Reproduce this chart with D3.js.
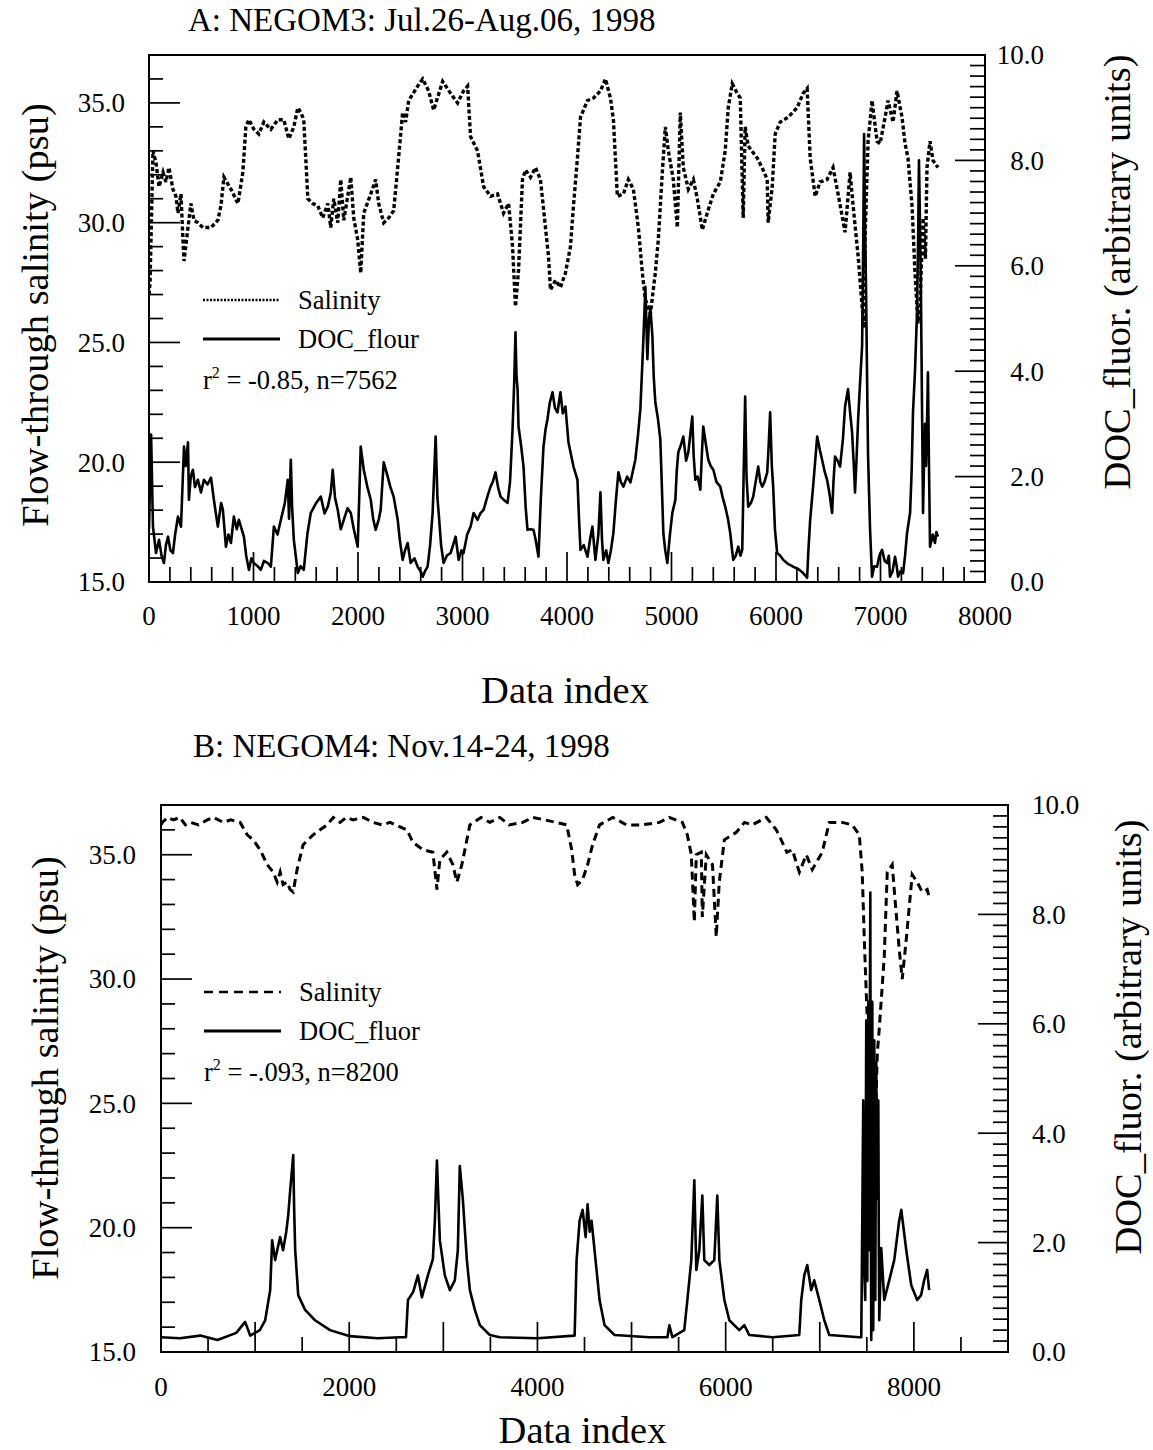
<!DOCTYPE html>
<html><head><meta charset="utf-8">
<script src="https://cdnjs.cloudflare.com/ajax/libs/d3/7.8.5/d3.min.js"></script>
<style>
body{margin:0;background:#fff}
text{font-family:"Liberation Serif","Times New Roman",serif;fill:#000}
</style>
</head><body>
<svg id="c" width="1153" height="1450"></svg>
<script>
// ---------- DATA (index, value) ----------
const salinityA = [[0,27.0],[10,27.5],[38,33.0],[67,32.5],[96,31.5],[134,32.1],[162,31.7],[191,32.3],[229,31.4],[258,31.1],[277,30.4],[306,31.2],[325,29.3],[335,28.4],[373,29.8],[401,30.8],[430,30.1],[468,30.0],[516,29.8],[593,29.8],[659,30.1],[688,30.7],[717,31.9],[784,31.4],[851,30.8],[898,32.1],[927,34.0],[956,34.3],[1003,33.9],[1051,33.7],[1099,34.2],[1166,33.9],[1233,34.3],[1290,34.3],[1338,33.5],[1386,34.0],[1424,34.8],[1453,34.6],[1481,34.3],[1520,31.0],[1567,30.8],[1615,30.7],[1663,30.2],[1711,30.8],[1739,29.8],[1768,31.0],[1806,30.0],[1835,31.8],[1864,30.1],[1931,31.9],[1959,30.2],[1997,29.3],[2026,27.9],[2055,30.4],[2122,31.2],[2169,31.8],[2198,30.8],[2246,30.0],[2294,30.2],[2341,30.5],[2380,32.3],[2427,34.6],[2456,34.2],[2485,35.1],[2571,35.7],[2619,36.0],[2676,35.5],[2724,34.7],[2810,35.9],[2886,35.4],[2953,35.0],[3010,35.5],[3049,35.7],[3077,33.6],[3144,33.0],[3202,31.5],[3268,31.1],[3335,31.2],[3393,30.4],[3441,30.8],[3479,29.0],[3507,26.5],[3536,28.0],[3574,31.8],[3603,32.2],[3651,31.9],[3698,32.3],[3746,31.8],[3794,29.8],[3823,28.6],[3842,27.2],[3890,27.6],[3937,27.3],[3985,27.9],[4033,29.0],[4062,30.7],[4100,32.7],[4129,34.4],[4196,35.1],[4253,35.2],[4320,35.5],[4368,36.0],[4416,35.2],[4444,34.3],[4482,31.1],[4540,31.2],[4587,31.8],[4635,31.4],[4683,29.8],[4721,27.9],[4750,26.8],[4798,26.2],[4845,27.9],[4874,29.3],[4912,32.1],[4941,34.0],[4970,33.0],[5017,31.8],[5056,29.8],[5084,34.6],[5113,32.3],[5161,31.4],[5209,31.8],[5247,31.0],[5295,29.7],[5342,30.4],[5400,31.2],[5467,31.7],[5514,33.0],[5543,34.8],[5581,35.8],[5629,35.4],[5658,35.2],[5686,30.2],[5705,34.0],[5734,33.2],[5820,32.7],[5877,32.2],[5916,31.8],[5925,30.0],[5964,31.5],[5992,33.7],[6040,34.2],[6116,34.4],[6202,34.8],[6260,35.4],[6298,35.6],[6327,32.7],[6375,31.1],[6422,31.7],[6489,31.8],[6546,32.3],[6594,31.2],[6661,29.6],[6709,32.1],[6738,30.7],[6786,28.6],[6824,26.5],[6843,25.6],[6852,29.3],[6881,33.4],[6919,35.1],[6967,33.4],[6996,33.3],[7044,34.4],[7072,35.1],[7120,34.2],[7158,35.5],[7206,34.4],[7235,33.3],[7263,32.7],[7302,30.7],[7330,27.9],[7359,25.8],[7378,26.5],[7407,30.2],[7430,28.5],[7445,32.3],[7474,33.4],[7502,32.6],[7550,32.3]];

const docA = [[0,1.0],[20,2.8],[38,1.05],[67,0.55],[96,0.8],[120,0.5],[143,0.36],[162,0.7],[182,0.86],[205,0.6],[229,0.55],[250,0.9],[277,1.24],[306,1.05],[335,2.57],[350,2.2],[373,2.65],[382,1.56],[400,2.0],[420,2.13],[440,1.8],[468,1.94],[497,1.7],[526,1.94],[560,1.85],[593,1.98],[621,1.56],[640,1.3],[659,1.05],[690,1.5],[707,1.37],[736,0.67],[760,0.9],[784,0.74],[812,1.24],[840,1.0],[860,1.18],[908,0.86],[930,0.5],[956,0.23],[980,0.45],[1003,0.36],[1040,0.3],[1070,0.23],[1100,0.4],[1137,0.36],[1166,0.29],[1195,1.05],[1230,0.9],[1262,1.18],[1300,1.5],[1328,1.94],[1340,1.2],[1357,2.32],[1370,1.4],[1386,0.8],[1424,0.17],[1450,0.3],[1481,0.23],[1515,0.9],[1548,1.31],[1600,1.5],[1644,1.62],[1680,1.3],[1711,1.43],[1740,1.7],[1758,2.13],[1780,1.6],[1806,1.37],[1835,1.0],[1864,1.18],[1900,1.4],[1931,1.31],[1960,1.0],[1997,0.67],[2010,1.5],[2026,2.57],[2055,2.13],[2090,1.8],[2122,1.56],[2145,1.2],[2169,0.99],[2200,1.2],[2217,1.37],[2246,2.27],[2284,2.0],[2310,1.8],[2341,1.62],[2380,1.18],[2400,0.8],[2427,0.42],[2450,0.6],[2475,0.74],[2504,0.36],[2540,0.45],[2571,0.29],[2600,0.2],[2619,0.1],[2640,0.2],[2666,0.29],[2690,0.7],[2714,1.31],[2743,2.76],[2760,1.6],[2772,1.31],[2795,0.7],[2819,0.36],[2850,0.5],[2886,0.55],[2910,0.7],[2934,0.86],[2963,0.42],[2990,0.6],[3010,0.55],[3045,0.9],[3077,1.05],[3106,1.31],[3144,1.18],[3170,1.3],[3202,1.37],[3235,1.6],[3268,1.81],[3290,1.9],[3316,2.08],[3340,1.8],[3364,1.62],[3400,1.55],[3431,1.5],[3455,1.9],[3479,2.9],[3495,3.8],[3507,4.74],[3517,3.9],[3527,3.66],[3536,2.95],[3560,2.6],[3584,2.19],[3605,1.4],[3622,0.99],[3650,1.0],[3679,0.99],[3700,0.8],[3727,0.48],[3750,1.6],[3775,2.57],[3795,2.9],[3813,3.09],[3835,3.4],[3861,3.6],[3885,3.3],[3909,3.22],[3937,3.6],[3960,3.2],[3985,3.33],[4014,2.65],[4040,2.4],[4062,2.19],[4100,1.94],[4115,1.2],[4129,0.61],[4160,0.7],[4196,0.48],[4220,0.8],[4243,1.05],[4272,0.42],[4300,0.9],[4320,1.7],[4335,0.8],[4348,0.42],[4375,0.6],[4396,0.36],[4420,0.6],[4444,0.93],[4470,1.6],[4492,2.08],[4515,1.9],[4540,1.81],[4575,2.0],[4607,1.89],[4630,2.1],[4654,2.32],[4680,2.8],[4702,3.28],[4731,4.61],[4750,5.6],[4769,4.23],[4785,5.0],[4798,5.2],[4817,4.67],[4830,3.9],[4845,3.41],[4870,3.1],[4893,2.7],[4908,1.8],[4922,0.93],[4940,0.6],[4960,0.36],[4985,0.9],[5008,1.31],[5037,1.56],[5050,2.1],[5065,2.46],[5090,2.6],[5113,2.76],[5140,2.3],[5161,2.46],[5180,2.8],[5199,3.14],[5212,2.4],[5228,1.94],[5250,2.0],[5276,1.75],[5290,2.4],[5304,2.95],[5330,2.6],[5352,2.32],[5375,2.2],[5400,2.13],[5430,1.9],[5467,1.81],[5490,1.6],[5514,1.43],[5540,1.2],[5562,0.93],[5580,0.6],[5591,0.42],[5615,0.5],[5639,0.67],[5660,0.5],[5677,0.61],[5690,2.0],[5705,3.52],[5718,2.0],[5734,1.43],[5760,1.5],[5782,1.62],[5805,1.9],[5830,2.19],[5850,1.9],[5868,1.81],[5890,1.9],[5916,2.08],[5930,2.6],[5944,3.22],[5960,2.2],[5973,1.81],[5990,1.0],[6011,0.55],[6040,0.5],[6069,0.42],[6110,0.35],[6164,0.29],[6210,0.25],[6260,0.17],[6298,0.08],[6310,0.6],[6327,1.18],[6355,1.81],[6375,2.3],[6394,2.76],[6420,2.5],[6441,2.32],[6465,2.1],[6489,1.94],[6510,1.7],[6537,1.31],[6550,1.9],[6565,2.38],[6590,2.3],[6613,2.19],[6640,2.7],[6661,3.33],[6689,3.66],[6710,3.2],[6728,2.84],[6745,2.2],[6756,1.7],[6770,2.3],[6786,3.09],[6805,3.8],[6824,4.48],[6835,6.5],[6843,8.5],[6852,6.8],[6862,5.5],[6872,3.8],[6881,2.4],[6900,1.0],[6919,0.1],[6940,0.3],[6967,0.29],[6990,0.5],[7015,0.61],[7040,0.4],[7063,0.36],[7080,0.5],[7091,0.1],[7115,0.2],[7139,0.48],[7155,0.3],[7168,0.1],[7190,0.2],[7216,0.17],[7235,0.5],[7254,0.93],[7283,1.31],[7298,2.1],[7311,3.22],[7330,4.0],[7349,5.1],[7360,6.5],[7368,8.0],[7378,6.8],[7387,5.5],[7397,3.4],[7407,1.31],[7416,2.2],[7426,3.0],[7435,2.2],[7445,3.03],[7454,3.98],[7464,2.2],[7474,0.67],[7500,0.9],[7521,0.74],[7535,0.95],[7550,0.86]];

const salinityB = [[0,36.2],[14,36.3],[70,36.5],[131,36.4],[200,36.5],[260,36.2],[311,36.3],[400,36.2],[491,36.4],[560,36.5],[661,36.3],[740,36.4],[841,36.3],[916,35.8],[979,35.6],[1053,35.2],[1128,34.6],[1192,34.3],[1234,33.9],[1266,34.3],[1297,33.8],[1340,33.9],[1372,33.6],[1404,33.5],[1446,34.4],[1510,35.4],[1616,35.8],[1765,36.2],[1830,36.5],[1903,36.3],[1970,36.5],[2041,36.4],[2150,36.5],[2253,36.3],[2350,36.2],[2433,36.3],[2613,36.0],[2676,35.5],[2783,35.2],[2889,35.1],[2932,33.6],[2963,34.8],[3037,35.1],[3101,34.6],[3144,33.9],[3197,34.6],[3282,36.2],[3400,36.5],[3494,36.3],[3600,36.5],[3700,36.2],[3844,36.3],[3950,36.5],[4078,36.4],[4200,36.3],[4311,36.2],[4364,35.2],[4395,34.2],[4427,33.8],[4480,34.0],[4533,34.6],[4586,35.4],[4660,36.2],[4800,36.5],[4946,36.2],[5100,36.2],[5296,36.3],[5400,36.5],[5540,36.3],[5593,35.8],[5635,35.0],[5667,32.3],[5688,35.0],[5741,35.1],[5752,32.5],[5794,35.0],[5860,34.6],[5900,31.7],[5932,33.9],[5986,35.6],[6113,35.9],[6200,36.3],[6283,36.2],[6432,36.5],[6538,36.0],[6602,35.5],[6650,35.1],[6708,35.2],[6783,34.3],[6857,35.0],[6920,34.4],[7026,35.1],[7101,36.3],[7239,36.3],[7345,36.2],[7420,35.8],[7451,34.3],[7473,31.6],[7505,28.3],[7526,25.0],[7547,23.0],[7568,26.0],[7590,24.0],[7611,27.0],[7632,28.0],[7685,30.9],[7717,34.3],[7770,34.6],[7791,33.6],[7844,31.2],[7876,30.0],[7919,31.6],[7982,34.2],[8035,33.9],[8088,33.5],[8141,33.6],[8162,33.3]];

const docB = [[0,0.27],[200,0.25],[417,0.3],[600,0.22],[800,0.35],[894,0.55],[948,0.3],[1050,0.4],[1107,0.58],[1160,1.13],[1181,2.04],[1213,1.68],[1240,1.9],[1266,2.1],[1297,1.86],[1331,2.2],[1352,2.5],[1373,2.96],[1390,3.3],[1405,3.6],[1415,2.6],[1426,1.86],[1458,1.04],[1531,0.77],[1637,0.58],[1796,0.4],[2008,0.29],[2300,0.25],[2539,0.27],[2603,0.27],[2624,0.95],[2680,1.1],[2730,1.4],[2772,1.0],[2836,1.4],[2889,1.7],[2910,2.4],[2932,3.5],[2963,2.04],[3016,1.4],[3069,1.13],[3122,1.31],[3154,1.86],[3175,3.4],[3207,2.8],[3250,1.68],[3282,1.13],[3335,0.77],[3388,0.49],[3494,0.31],[3600,0.27],[4000,0.25],[4395,0.3],[4416,1.68],[4448,2.4],[4480,2.6],[4512,2.1],[4533,2.7],[4555,2.2],[4575,2.4],[4607,1.86],[4660,0.95],[4713,0.49],[4819,0.31],[5190,0.27],[5381,0.27],[5402,0.49],[5434,0.27],[5560,0.4],[5593,0.95],[5635,1.68],[5667,3.14],[5688,1.5],[5720,1.86],[5752,2.86],[5773,1.68],[5826,1.59],[5879,1.68],[5911,2.86],[5933,1.68],[5986,0.95],[6039,0.58],[6145,0.4],[6198,0.49],[6251,0.31],[6500,0.27],[6782,0.31],[6803,0.95],[6835,1.4],[6867,1.59],[6909,1.13],[6941,1.31],[6995,0.95],[7048,0.58],[7101,0.31],[7420,0.27],[7441,0.27],[7452,2.5],[7462,4.6],[7472,1.5],[7483,0.95],[7494,6.06],[7500,2.0],[7505,1.3],[7510,5.0],[7516,6.4],[7521,2.5],[7526,1.86],[7532,6.0],[7537,8.4],[7542,3.0],[7547,0.22],[7552,4.5],[7558,6.4],[7563,2.0],[7568,0.4],[7574,4.0],[7579,5.7],[7584,2.5],[7590,0.95],[7595,3.5],[7600,5.3],[7606,3.0],[7611,2.8],[7616,4.5],[7622,4.6],[7627,2.0],[7632,0.58],[7653,1.9],[7685,0.95],[7738,1.31],[7791,1.68],[7844,2.4],[7866,2.6],[7919,1.86],[7972,1.22],[8035,0.95],[8077,1.04],[8109,1.31],[8141,1.5],[8162,1.13]];

const xTicksA = [0,1000,2000,3000,4000,5000,6000,7000,8000];
const xTicksB = [0,2000,4000,6000,8000];
const salTicks = [15,20,25,30,35];
const docTicks = [0,2,4,6,8,10];
const titles = ["A: NEGOM3: Jul.26-Aug.06, 1998", "B: NEGOM4: Nov.14-24, 1998"];
const legendDoc = ["DOC_flour", "DOC_fluor"];
const stats = ["= -0.85, n=7562", "= -.093, n=8200"];

// ---------- DRAWING ----------
const svg = d3.select("#c");
svg.append("rect").attr("width",1153).attr("height",1450).attr("fill","#fff");

function drawPanel(o){
  const g = svg.append("g");
  const x = d3.scaleLinear().domain([0,o.xMax]).range([o.L,o.R]);
  const yS = d3.scaleLinear().domain([15,37]).range([o.B,o.T]);
  const yD = d3.scaleLinear().domain([0,10]).range([o.B,o.T]);

  const cid = "clip"+o.id;
  svg.append("clipPath").attr("id",cid).append("rect")
    .attr("x",o.L).attr("y",o.T).attr("width",o.R-o.L).attr("height",o.B-o.T);

  d3.range(15,37.001,1).forEach(v=>{
    const maj = v%5===0;
    g.append("line").attr("x1",o.L).attr("x2",o.L+(maj?31:14))
      .attr("y1",yS(v)).attr("y2",yS(v)).attr("stroke","#000").attr("stroke-width",1.7);
  });
  d3.range(0,10.001,0.2).forEach(v=>{
    const maj = Math.abs(v/2-Math.round(v/2))<1e-6;
    g.append("line").attr("x1",o.R).attr("x2",o.R-(maj?30:15))
      .attr("y1",yD(v)).attr("y2",yD(v)).attr("stroke","#000").attr("stroke-width",1.7);
  });
  d3.range(0,o.xMax+0.1,o.xMinor).forEach(v=>{
    const maj = v%o.xMajor===0;
    g.append("line").attr("x1",x(v)).attr("x2",x(v))
      .attr("y1",o.B).attr("y2",o.B-(maj?30:15)).attr("stroke","#000").attr("stroke-width",1.7);
  });

  const lineS = d3.line().x(d=>x(d[0])).y(d=>yS(d[1]));
  const lineD = d3.line().x(d=>x(d[0])).y(d=>yD(d[1]));
  g.append("path").datum(o.doc).attr("d",lineD).attr("fill","none")
    .attr("stroke","#000").attr("stroke-width",2.6).attr("stroke-linejoin","round")
    .attr("clip-path",`url(#${cid})`);
  g.append("path").datum(o.sal).attr("d",lineS).attr("fill","none")
    .attr("stroke","#000").attr("stroke-width",o.salW).attr("stroke-dasharray",o.dash)
    .attr("clip-path",`url(#${cid})`);

  g.append("rect").attr("x",o.L).attr("y",o.T).attr("width",o.R-o.L).attr("height",o.B-o.T)
    .attr("fill","none").attr("stroke","#000").attr("stroke-width",2);

  salTicks.forEach(v=>{
    g.append("text").attr("x",o.L-o.lGap).attr("y",yS(v)).attr("dy","0.35em")
      .attr("text-anchor","end").attr("font-size",27).text(v.toFixed(1));
  });
  docTicks.forEach(v=>{
    g.append("text").attr("x",o.rLabX).attr("y",yD(v)).attr("dy","0.35em")
      .attr("text-anchor",o.rAnchor).attr("font-size",27).text(v.toFixed(1));
  });
  o.xTicks.forEach(v=>{
    g.append("text").attr("x",x(v)).attr("y",o.B+o.xLabDy)
      .attr("text-anchor","middle").attr("font-size",27).text(v);
  });

  g.append("text").attr("x",o.titleX).attr("y",o.titleY).attr("font-size",33).text(o.title);
  g.append("text").attr("x",(o.L+o.R)/2-2).attr("y",o.xTitleY).attr("text-anchor","middle")
    .attr("font-size",38.5).text("Data index");
  g.append("text").attr("transform",`translate(${o.yTitleX},${o.yTitleY}) rotate(-90)`)
    .attr("text-anchor","middle").attr("font-size",38.5).text("Flow-through salinity (psu)");
  g.append("text").attr("transform",`translate(${o.rTitleX},${o.rTitleY}) rotate(-90)`)
    .attr("text-anchor","middle").attr("font-size",38.5).text("DOC_fluor. (arbitrary units)");

  const lx = o.L+o.legDX, ly = o.legY;
  g.append("line").attr("x1",lx).attr("x2",lx+77).attr("y1",ly).attr("y2",ly)
    .attr("stroke","#000").attr("stroke-width",o.legDashW).attr("stroke-dasharray",o.legDash);
  g.append("text").attr("x",lx+95).attr("y",ly+9).attr("font-size",26.5).text("Salinity");
  g.append("line").attr("x1",lx).attr("x2",lx+77).attr("y1",ly+39).attr("y2",ly+39)
    .attr("stroke","#000").attr("stroke-width",3.2);
  g.append("text").attr("x",lx+95).attr("y",ly+48).attr("font-size",26.5).text(o.docName);
  const t = g.append("text").attr("x",lx).attr("y",ly+89).attr("font-size",26.5);
  t.append("tspan").text("r");
  t.append("tspan").attr("dy",-11).attr("font-size",16).text("2");
  t.append("tspan").attr("dy",11).text(" "+o.stat);
}

drawPanel({id:"A", L:149, R:985, T:55, B:582, xMax:8000, xMinor:200, xMajor:1000,
  xTicks:xTicksA, sal:salinityA, doc:docA, dash:"4,2.5", salW:3.4,
  lGap:24, rLabX:1044, rAnchor:"end", xLabDy:43,
  title:titles[0], titleX:188, titleY:31, xTitleY:703,
  yTitleX:48, yTitleY:315, rTitleX:1130, rTitleY:272,
  legDX:54, legY:300, legDash:"2,1.5", legDashW:2.4, docName:legendDoc[0], stat:stats[0]});

drawPanel({id:"B", L:161, R:1008, T:805, B:1352, xMax:9000, xMinor:500, xMajor:1000,
  xTicks:xTicksB, sal:salinityB, doc:docB, dash:"8,5", salW:3,
  lGap:25, rLabX:1032, rAnchor:"start", xLabDy:44,
  title:titles[1], titleX:193, titleY:757, xTitleY:1443,
  yTitleX:58, yTitleY:1068, rTitleX:1141, rTitleY:1037,
  legDX:43, legY:992, legDash:"9,6", legDashW:2.6, docName:legendDoc[1], stat:stats[1]});
</script>
</body></html>
